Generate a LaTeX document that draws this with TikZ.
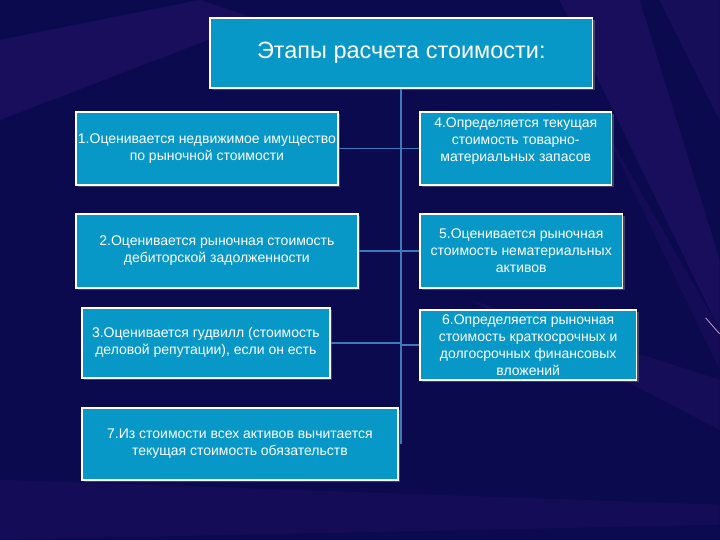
\documentclass[tikz,border=0pt]{standalone}
\usepackage{fontspec}
\setmainfont{Liberation Sans}
\usetikzlibrary{shadows}
\definecolor{etbg}{RGB}{12,10,78}
\definecolor{etray}{RGB}{70,30,140}
\definecolor{etfill}{RGB}{8,152,200}
\definecolor{etline}{RGB}{60,122,188}
\tikzset{etbox/.style={rectangle,draw=white,line width=1.6pt,fill=etfill,text=white,align=center,
           inner sep=1pt,font=\fontsize{14}{17}\selectfont,
           drop shadow={opacity=0.45,shadow xshift=2pt,shadow yshift=-2pt}},
         etlink/.style={draw=etline,line width=1.6pt}}
\begin{document}
\begin{tikzpicture}[x=1pt,y=-1pt]
  % background and rays
  \fill[etbg] (0,0) rectangle (720,540);
  \fill[etray,opacity=0.22] (0,40) -- (0,120) -- (260,20) -- (200,0) -- cycle;
  \fill[etray,opacity=0.22] (560,0) -- (640,0) -- (720,260) -- (720,330) -- cycle;
  \fill[etray,opacity=0.20] (660,0) -- (720,0) -- (720,120) -- cycle;
  \fill[etray,opacity=0.18] (720,380) -- (720,430) -- (470,300) -- cycle;
  \fill[etray,opacity=0.14] (0,480) -- (0,540) -- (720,525) -- (720,505) -- cycle;
  \fill[etray,opacity=0.15] (600,120) -- (720,330) -- (720,370) -- cycle;
  \draw[violet!40!white,line width=0.8pt] (706,318) -- (720,334);
  \useasboundingbox (0,0) rectangle (720,540);

  \node[etbox,minimum width=383pt,minimum height=70pt,font=\fontsize{23.5}{26}\selectfont] (title) at (401.5,53) {Этапы расчета стоимости:};
  \foreach \n/\x/\y/\w/\h/\t in {
      b1/207/148.5/262/73/{1.Оценивается недвижимое имущество\\по рыночной стоимости},
      b2/217/251/282/74/{2.Оценивается рыночная стоимость\\дебиторской задолженности},
      b3/206/343/248/70/{3.Оценивается гудвилл (стоимость\\деловой репутации), если он есть},
      b4/516/148.5/192/73/{4.Определяется текущая\\стоимость товарно-\\материальных запасов\\[1pt]},
      b5/521.5/251/203/74/{5.Оценивается рыночная\\стоимость нематериальных\\активов},
      b6/528.5/345/217/70/{\baselineskip=15.5pt 6.Определяется рыночная\\стоимость краткосрочных и\\долгосрочных финансовых\\вложений},
      b7/240/444/316/72/{7.Из стоимости всех активов вычитается\\текущая стоимость обязательств}}
    \node[etbox,minimum width=\w pt,minimum height=\h pt] (\n) at (\x,\y) {\t};

  % trunk and branches
  \draw[etlink] (title.south) -- (title.south |- b7.east);
  \foreach \b in {b1,b2,b3} \draw[etlink] (\b.east) -- (\b.east -| title.south);
  \foreach \b in {b4,b5,b6} \draw[etlink] (\b.west) -- (\b.west -| title.south);
\end{tikzpicture}
\end{document}
